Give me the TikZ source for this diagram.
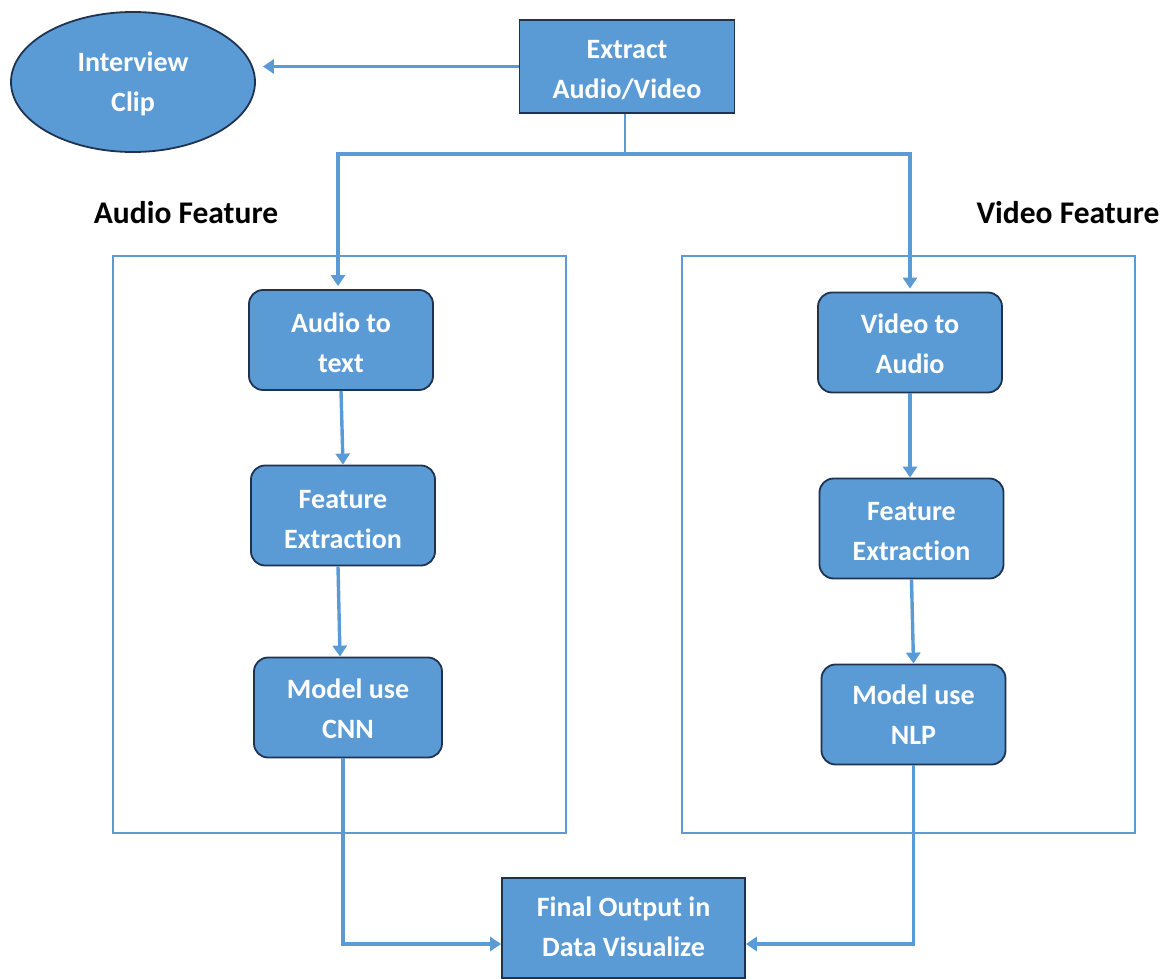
\documentclass[tikz,border=0pt]{standalone}
\usepackage{fontspec}
\setmainfont{Carlito}[Ligatures=NoCommon]
\usetikzlibrary{arrows.meta,shapes.geometric}
\definecolor{boxblue}{HTML}{5B9BD5}
\definecolor{boxedge}{HTML}{1F3350}
\newcommand\twol[3][0pt]{\raisebox{#1}[\height][\depth]{\begin{tabular}{@{}c@{}}#2\\#3\end{tabular}}}
\tikzset{
  x=1pt,y=-1pt,
  flow/.style={draw=boxblue,line width=3.4pt},
  arr/.style={flow,-{Triangle[width=14pt,length=11pt]}},
  frame/.style={draw=boxblue,line width=2.4pt,rectangle,inner sep=0pt},
  proc/.style={rectangle,rounded corners=14pt,draw=boxedge,line width=1.8pt,fill=boxblue,
    text=white,font=\fontsize{28}{40}\selectfont\bfseries,
    minimum width=184pt,minimum height=100pt,inner sep=0pt},
  sq/.style={proc,rounded corners=0pt},
  lbl/.style={font=\fontsize{31.5}{36}\selectfont\bfseries,text=black,inner sep=0pt}
}
\begin{document}
\begin{tikzpicture}
\useasboundingbox (0,0) rectangle (1163,979);
% frames
\node[frame,minimum width=453pt,minimum height=577pt] (lframe) at (339.5,544.5) {};
\node[frame,minimum width=453pt,minimum height=577pt] (rframe) at (908.5,544.5) {};
% top
\node[ellipse,draw=boxedge,line width=1.8pt,fill=boxblue,text=white,
  font=\fontsize{28}{40}\selectfont\bfseries,
  minimum width=244pt,minimum height=140pt,inner sep=0pt] (clip) at (133,82) {\twol[-2pt]{Interview}{Clip}};
\node[sq,minimum width=215pt,minimum height=93pt] (extract) at (627,66.5) {\twol[-4pt]{Extract}{Audio/Video}};
% labels
\node[lbl] (alab) at (186,213) {Audio Feature};
\node[lbl] (vlab) at (1068,213) {Video Feature};
% left column
\node[proc] (a1) at (341,340) {\twol[-4pt]{Audio to}{text}};
\node[proc] (a2) at (343,515.5) {\twol[-5pt]{Feature}{Extraction}};
\node[proc,minimum width=188pt] (a3) at (348,707.5) {\twol[-3pt]{Model use}{CNN}};
% right column
\node[proc] (v1) at (910,342.5) {\twol[-3pt]{Video to}{Audio}};
\node[proc] (v2) at (911.5,528.5) {\twol[-4pt]{Feature}{Extraction}};
\node[proc] (v3) at (913.5,714.5) {\twol[-2pt]{Model use}{NLP}};
% final
\node[sq,minimum width=243pt,minimum height=100pt] (final) at (623.5,928) {\twol{Final Output in}{Data Visualize}};
% connectors
\draw[arr] (extract.west) -- ([xshift=7pt]clip.east |- extract.west);
\coordinate (split) at ([xshift=-2pt,yshift=-40pt]extract.south);
\draw[flow,line width=2pt] ([xshift=-2pt]extract.south) -- (split);
\draw[flow,line cap=rect] ([xshift=-3pt]a1.north |- split) -- (v1.north |- split);
\draw[arr,shorten >=3pt] ([xshift=-3pt]a1.north |- split) -- ([xshift=-3pt]a1.north);
\draw[arr,shorten >=3pt] (v1.north |- split) -- (v1.north);
\draw[arr] (a1.south) -- (a2.north);
\draw[arr] ([xshift=-5pt]a2.south) -- ([xshift=-8pt]a3.north);
\draw[arr] (v1.south) -- ([xshift=-1.5pt]v2.north);
\draw[arr] (v2.south) -- (v3.north);
\draw[arr] ([xshift=-5pt]a3.south) |- ([yshift=-16pt]final.west);
\draw[arr] (v3.south) |- ([yshift=-16pt]final.east);
\end{tikzpicture}
\end{document}
